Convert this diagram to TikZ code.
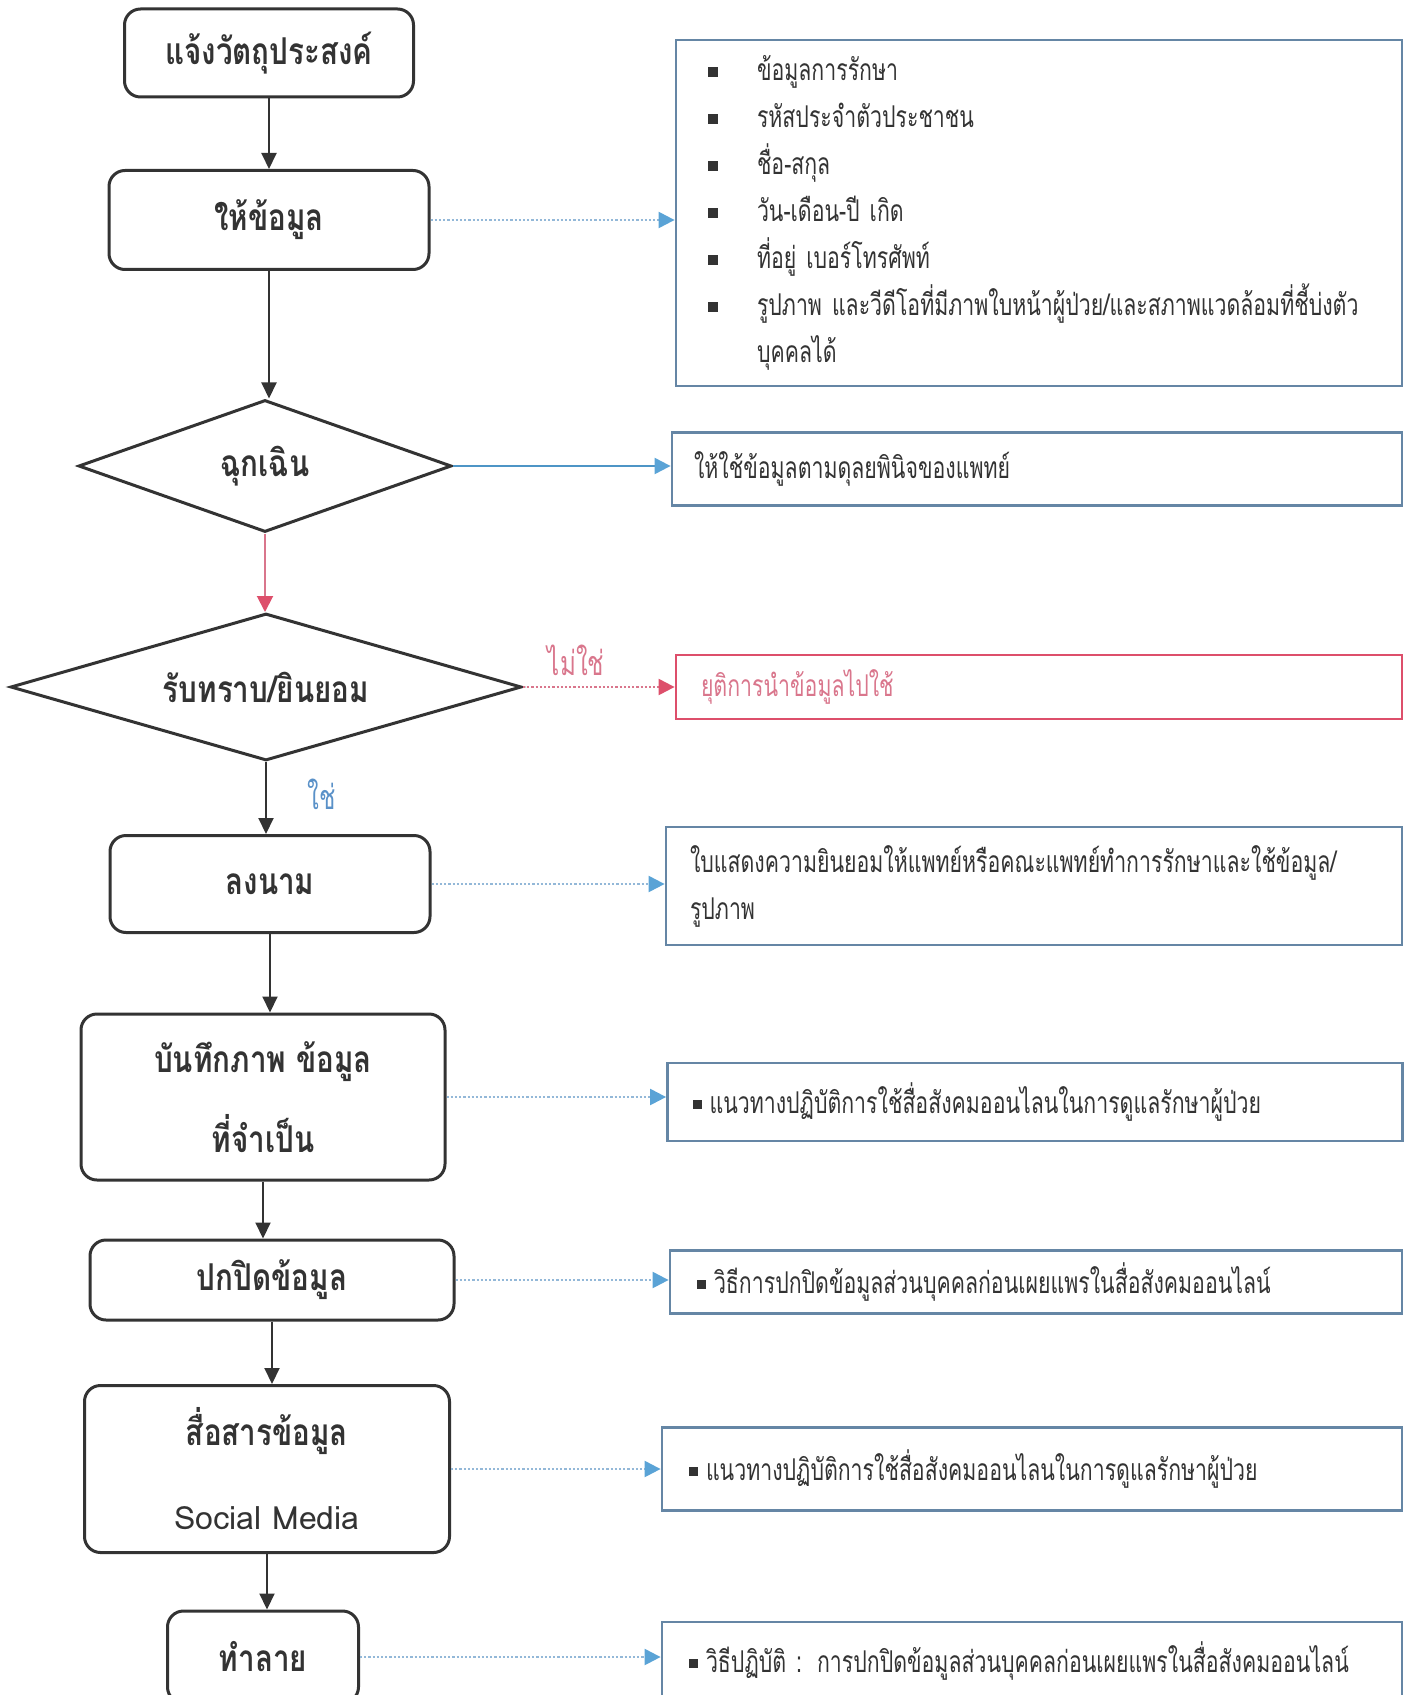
\documentclass[tikz,border=0pt]{standalone}
\usepackage{fontspec}
\usetikzlibrary{shapes.geometric,arrows.meta}
\newfontfamily\stepfont[Script=Thai,FakeStretch=0.8,BoldFeatures={FakeStretch=0.8}]{Loma}
\newfontfamily\notefont[Script=Thai,FakeStretch=0.71]{Loma}
\newfontfamily\latinfont{Loma}
\definecolor{boxgrey}{HTML}{333333}
\definecolor{noteblue}{HTML}{6586A5}
\definecolor{tipblue}{HTML}{5AA3D6}
\definecolor{dotblue}{HTML}{93B8D8}
\definecolor{lineblue}{HTML}{4E95C6}
\definecolor{stopred}{HTML}{DD4F6B}
\definecolor{stoppink}{HTML}{D9768C}
\definecolor{yesblue}{HTML}{5A91C8}
\newcommand{\sqbullet}{\textcolor{boxgrey}{\rule[2pt]{5pt}{5pt}}}
\newcommand{\smallsq}{\textcolor{boxgrey}{\rule[2.5pt]{4.5pt}{4.5pt}}\hspace{4pt}}

\tikzset{
  stepbox/.style={draw=boxgrey, line width=1.5pt, rounded corners=8pt, align=center,
    font=\stepfont\bfseries\fontsize{18.5}{24}\selectfont, text=boxgrey},
  decision/.style={diamond, draw=boxgrey, line width=1.5pt, inner sep=0pt, aspect=3,
    font=\stepfont\bfseries\fontsize{18.5}{24}\selectfont, text=boxgrey},
  notebox/.style={draw=noteblue, line width=1.4pt, align=left, inner xsep=12pt,
    font=\notefont\fontsize{15}{23.5}\selectfont, text=boxgrey},
  flow/.style={draw=boxgrey, line width=1pt, -{Triangle[length=8pt,width=7.5pt]}},
  link/.style={draw=dotblue, line width=1.1pt, densely dotted, -{Triangle[length=8pt,width=8pt,color=tipblue]}},
}

\begin{document}
\begin{tikzpicture}[x=0.5pt,y=-0.5pt]
\useasboundingbox (0,0) rectangle (1411,1695);
\clip (0,0) rectangle (1411,1695);

\node[stepbox, minimum width=144.5pt, minimum height=44pt] (purpose) at (269,53) {แจ้งวัตถุประสงค์};
\node[stepbox, minimum width=160pt, minimum height=49.5pt] (givedata) at (269,220) {ให้ข้อมูล};
\node[decision, minimum width=186.5pt, minimum height=66pt] (emergency) at (265,466) {ฉุกเฉิน};
\node[decision, minimum width=255.5pt, minimum height=73.5pt] (consent) at (266,687) {รับทราบ/ยินยอม};
\node[stepbox, minimum width=160pt, minimum height=48.5pt] (sign) at (270,884) {ลงนาม};
\node[stepbox, minimum width=182pt, minimum height=83pt, font=\stepfont\bfseries\fontsize{18.5}{40}\selectfont] (record) at (263,1097) {บันทึกภาพ ข้อมูล\\ที่จำเป็น};
\node[stepbox, minimum width=182pt, minimum height=40pt] (mask) at (272,1280) {ปกปิดข้อมูล};
\node[stepbox, minimum width=182.5pt, minimum height=83.5pt, font=\stepfont\bfseries\fontsize{18.5}{42}\selectfont] (share) at (267,1469) {สื่อสารข้อมูล\\{\latinfont\mdseries\fontsize{16}{42}\selectfont Social Media}};
\node[stepbox, minimum width=95.5pt, minimum height=46pt] (destroy) at (263,1657) {ทำลาย};

\node[notebox, text width=331pt, inner xsep=16pt, minimum height=173pt] (infolist) at (1039,213) {%
\makebox[24.5pt][l]{\sqbullet}ข้อมูลการรักษา\\
\makebox[24.5pt][l]{\sqbullet}รหัสประจำตัวประชาชน\\
\makebox[24.5pt][l]{\sqbullet}ชื่อ-สกุล\\
\makebox[24.5pt][l]{\sqbullet}วัน-เดือน-ปี เกิด\\
\makebox[24.5pt][l]{\sqbullet}ที่อยู่ เบอร์โทรศัพท์\\
\makebox[24.5pt][l]{\sqbullet}\mbox{รูปภาพ และวีดีโอที่มีภาพใบหน้าผู้ป่วย/และสภาพแวดล้อมที่ชี้บ่งตัว}\\
\hspace*{24.5pt}บุคคลได้};
\node[notebox, text width=343pt, inner xsep=11pt, minimum height=36.5pt] (judgement) at (1037,469) {ให้ใช้ข้อมูลตามดุลยพินิจของแพทย์};
\node[notebox, draw=stopred, text=stoppink, text width=338pt, inner xsep=12.5pt, minimum height=32pt] (stopuse) at (1039,687) {ยุติการนำข้อมูลไปใช้};
\node[notebox, text width=344pt, minimum height=59pt] (consentform) at (1034,886) {ใบแสดงความยินยอมให้แพทย์หรือคณะแพทย์ทำการรักษาและใช้ข้อมูล/\\รูปภาพ};
\node[notebox, text width=342.5pt, inner xsep=12.5pt, minimum height=39pt] (guideA) at (1035,1102) {\smallsq แนวทางปฏิบัติการใช้สื่อสังคมออนไลนในการดูแลรักษาผู้ป่วย};
\node[notebox, text width=339pt, inner xsep=13.5pt, minimum height=31.5pt] (maskhow) at (1036,1282) {\smallsq วิธีการปกปิดข้อมูลส่วนบุคคลก่อนเผยแพรในสื่อสังคมออนไลน์};
\node[notebox, text width=343pt, inner xsep=13.5pt, minimum height=41.5pt] (guideB) at (1032,1469) {\smallsq แนวทางปฏิบัติการใช้สื่อสังคมออนไลนในการดูแลรักษาผู้ป่วย};
\node[notebox, text width=343pt, inner xsep=13.5pt, minimum height=39pt] (destroyhow) at (1032,1661) {\smallsq \mbox{วิธีปฏิบัติ : การปกปิดข้อมูลส่วนบุคคลก่อนเผยแพรในสื่อสังคมออนไลน์}};

\draw[flow] (purpose.south) -- (purpose.south |- givedata.north);
\draw[flow] (givedata.south) -- (givedata.south |- emergency.north);
\draw[draw=stoppink, line width=1pt, -{Triangle[length=8pt,width=8pt,color=stopred]}] (emergency.south) -- (emergency.south |- consent.north);
\draw[flow] (consent.south) -- (consent.south |- sign.north) node[pos=0.45, right=17pt, text=yesblue, font=\notefont\fontsize{17}{20}\selectfont] (yes) {ใช่};
\draw[flow] (sign.south) -- (sign.south |- record.north);
\draw[flow] (record.south) -- (record.south |- mask.north);
\draw[flow] (mask.south) -- (mask.south |- share.north);
\draw[flow] (share.south) -- (share.south |- destroy.north);

\draw[link] (givedata.east) -- (givedata.east -| infolist.west);
\draw[draw=lineblue, line width=1pt, -{Triangle[length=8pt,width=8pt,color=tipblue]}] (emergency.east) -- (emergency.east -| judgement.west);
\draw[draw=stoppink, line width=1.1pt, densely dotted, -{Triangle[length=8pt,width=8pt,color=stopred]}] (consent.east) -- (consent.east -| stopuse.west) node[pos=0.35, above=2pt, text=stoppink, font=\notefont\fontsize{17}{20}\selectfont] (no) {ไม่ใช่};
\draw[link] (sign.east) -- (sign.east -| consentform.west);
\draw[link] (record.east) -- (record.east -| guideA.west);
\draw[link] (mask.east) -- (mask.east -| maskhow.west);
\draw[link] (share.east) -- (share.east -| guideB.west);
\draw[link] (destroy.east) -- (destroy.east -| destroyhow.west);

\end{tikzpicture}
\end{document}
